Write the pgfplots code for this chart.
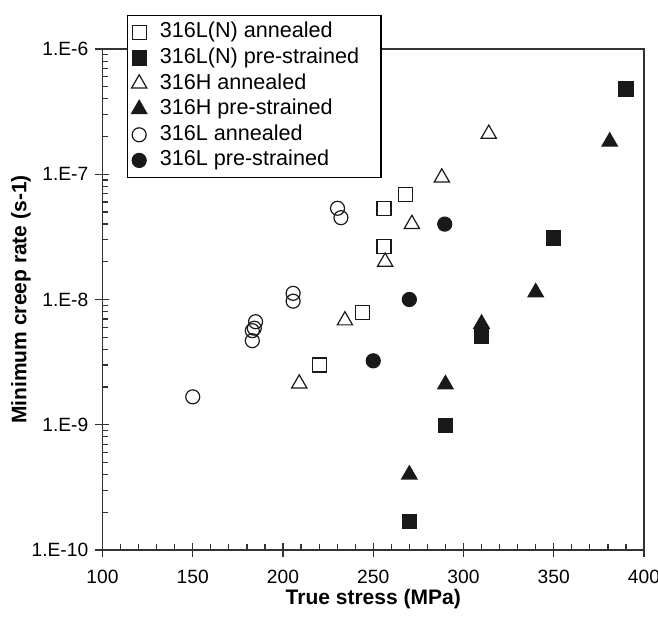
\documentclass[border=0pt]{standalone}
\usepackage{fontspec}
\setmainfont{Liberation Sans}
\usepackage{pgfplots}
\pgfplotsset{compat=1.18}

\begin{document}
\begin{tikzpicture}
\begin{axis}[
    scale only axis, width=270.75pt, height=250.5pt,
    xmin=100, xmax=400, ymode=log, ymin=1e-10, ymax=1e-6,
    xtick={100,150,...,400}, minor x tick num=4,
    ytick={1e-10,1e-9,1e-8,1e-7,1e-6},
    yticklabels={1.E-10,1.E-9,1.E-8,1.E-7,1.E-6},
    xtick pos=left, ytick pos=left,
    tick align=inside, major tick length=3.5pt, minor tick length=3pt,
    extra x ticks={100,150,...,400}, extra x tick labels={},
    extra x tick style={tick align=outside},
    extra y ticks={1e-10,1e-9,1e-8,1e-7,1e-6}, extra y tick labels={},
    extra y tick style={tick align=outside},
    axis line style={black!80, line width=0.7pt},
    tick style={black!80, line width=0.6pt},
    tick label style={font=\fontsize{9.6}{11}\selectfont},
    xticklabel style={/pgf/number format/assume math mode=true, yshift=-6.5pt},
    yticklabel style={xshift=-3.6pt},
    every axis x label/.style={at={(axis description cs:0.5,0)}, yshift=-24.5pt, anchor=center},
    every axis y label/.style={at={(axis description cs:0,0.5)}, xshift=-40.75pt, anchor=center, rotate=90},
    label style={font=\bfseries\fontsize{10.5}{12}\selectfont},
    xlabel={True stress (MPa)},
    ylabel={Minimum creep rate (s-1)},
    legend style={at={(axis description cs:0,1)}, anchor=north west,
        xshift=12.25pt, yshift=17pt, draw=black, line width=0.6pt, fill=white,
        inner xsep=0.5pt, inner ysep=2pt, row sep=0pt,
        font=\fontsize{10.8}{12}\selectfont,
        nodes={inner sep=1.5pt, text height=7.6pt, text depth=2.2pt}},
    legend cell align=left,
    legend image code/.code={\path (-5pt,0pt) (8.5pt,0pt); \draw[#1] plot coordinates {(0pt,0pt)};},
    clip=false,
]
\addplot[only marks, mark=square, mark size=3.5pt, black!90, mark options={line width=0.6pt}]
    coordinates {(268,6.9e-8) (256,5.35e-8) (256,2.64e-8) (244,7.85e-9) (220,3.0e-9)};
\addlegendentry{316L(N) annealed}
\addplot[only marks, mark=square*, mark size=3.5pt, black!90, mark options={line width=0.6pt}]
    coordinates {(390,4.8e-7) (350,3.1e-8) (310,5.1e-9) (290,9.8e-10) (270,1.7e-10)};
\addlegendentry{316L(N) pre-strained\rule{9pt}{0pt}}
\addplot[only marks, mark=triangle, mark size=4.4pt, black!90, mark options={line width=0.6pt}]
    coordinates {(314,2.1e-7) (288,9.4e-8) (271.4,4.0e-8) (256.6,2.0e-8) (234.3,6.8e-9) (209,2.13e-9)};
\addlegendentry{316H annealed}
\addplot[only marks, mark=triangle*, mark size=4.4pt, black!90, mark options={line width=0.6pt}]
    coordinates {(381,1.82e-7) (340,1.14e-8) (310,6.4e-9) (290,2.1e-9) (270,4.0e-10)};
\addlegendentry{316H pre-strained}
\addplot[only marks, mark=o, mark size=3.5pt, black!90, mark options={line width=0.6pt}]
    coordinates {(230.2,5.35e-8) (232.1,4.5e-8) (205.6,1.12e-8) (205.6,9.7e-9) (184.8,6.65e-9)
                 (184.1,5.9e-9) (183,5.64e-9) (183,4.69e-9) (150,1.67e-9)};
\addlegendentry{316L annealed}
\addplot[only marks, mark=*, mark size=3.5pt, black!90, mark options={line width=0.6pt}]
    coordinates {(289.6,4.0e-8) (270,1.0e-8) (250,3.24e-9)};
\addlegendentry{316L pre-strained}
\end{axis}
\pgfresetboundingbox
\path[use as bounding box] ([shift={(-51.25pt,-33.5pt)}]current axis.south west)
    rectangle ([shift={(7pt,24.5pt)}]current axis.north east);
\end{tikzpicture}
\end{document}
